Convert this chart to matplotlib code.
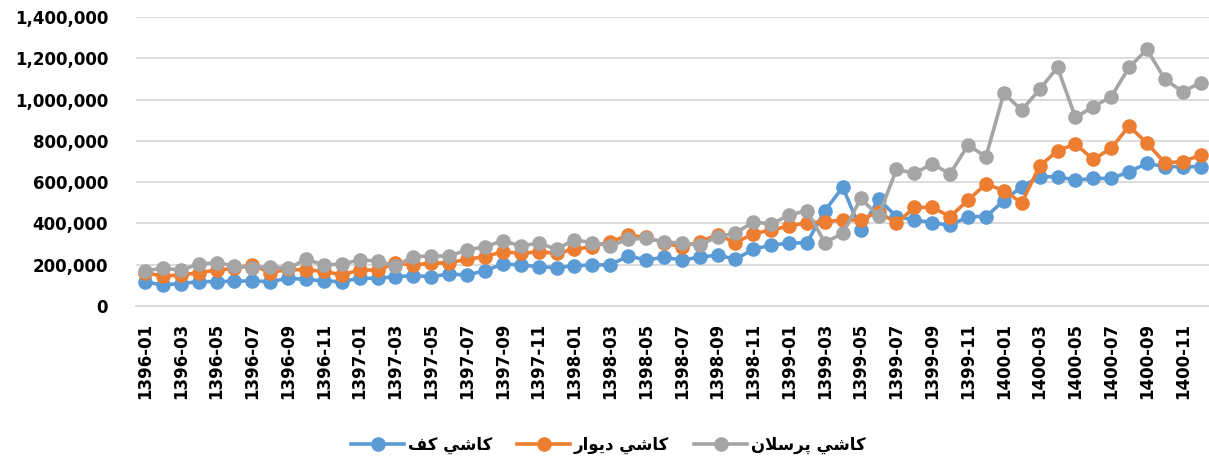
import matplotlib
matplotlib.use("Agg")
import matplotlib.pyplot as plt
from matplotlib.ticker import FuncFormatter

# months 1396-01 .. 1400-12
years = [1396, 1397, 1398, 1399, 1400]
months = [f"{y}-{m:02d}" for y in years for m in range(1, 13)]

# floor tiles (کاشی کف)
floor = [115, 103, 108, 118, 118, 121, 121, 118, 134, 129,
         121, 118, 134, 134, 142, 147, 142, 155, 150, 171,
         203, 199, 190, 186, 195, 199, 199, 242, 223, 236,
         223, 236, 247, 226, 275, 295, 304, 307, 462, 575,
         368, 517, 433, 417, 404, 390, 433, 433, 510, 578,
         626, 626, 610, 618, 618, 650, 691, 675, 675, 675]

# wall tiles (کاشی دیوار)
wall = [161, 145, 150, 161, 174, 182, 200, 161, 178, 174,
        169, 150, 174, 174, 207, 199, 207, 210, 226, 239,
        263, 255, 263, 255, 275, 287, 311, 342, 333, 307,
        285, 311, 345, 307, 350, 368, 387, 404, 408, 417,
        417, 457, 400, 478, 478, 433, 513, 591, 559, 500,
        678, 752, 785, 710, 764, 872, 788, 694, 699, 731]

# porcelain tiles (کاشی پرسلان)
porcelain = [171, 182, 174, 202, 210, 194, 186, 190, 182, 226,
             199, 203, 223, 218, 194, 239, 242, 242, 271, 287,
             316, 291, 304, 275, 320, 307, 291, 323, 328, 311,
             304, 295, 336, 352, 408, 396, 441, 462, 307, 352,
             521, 436, 662, 643, 688, 640, 780, 723, 1030, 949,
             1049, 1156, 914, 965, 1014, 1156, 1243, 1098, 1038, 1082]

# legend labels, written in shaped (presentation) forms, visual order
# "کاشی کف", "کاشی دیوار", "کاشی پرسلان"
labels = [
    "\uFED2\uFB90 \uFEF2\uFEB7\uFE8E\uFB90",
    "\uFEAD\uFE8D\uFEEE\uFEF3\uFEA9 \uFEF2\uFEB7\uFE8E\uFB90",
    "\uFEE5\uFEFC\uFEB3\uFEAE\uFB58 \uFEF2\uFEB7\uFE8E\uFB90",
]
colors = ["#5B9BD5", "#ED7D31", "#A5A5A5"]

plt.rcParams["font.family"] = ["DejaVu Sans"]
plt.rcParams["font.weight"] = "bold"

fig = plt.figure(figsize=(12.09, 4.62), dpi=100)
ax = fig.add_axes([0.1125, 0.3377, 0.8880, 0.6255])

x = list(range(len(months)))
for vals, lab, c in zip([floor, wall, porcelain], labels, colors):
    ax.plot(x, [v * 1000 for v in vals], color=c, lw=2.6, marker="o",
            markersize=9.5, label=lab, clip_on=False)

ax.set_xlim(-0.5, len(months) - 0.5)
ax.set_ylim(0, 1400000)
ax.set_yticks(range(0, 1400001, 200000))
ax.yaxis.set_major_formatter(FuncFormatter(lambda v, p: f"{v:,.0f}"))
ax.set_xticks(x[::2])
ax.set_xticklabels(months[::2], rotation=90)

ax.grid(axis="y", color="#D9D9D9", lw=1.3)
ax.set_axisbelow(True)
for s in ["top", "right", "left"]:
    ax.spines[s].set_visible(False)
ax.spines["bottom"].set_color("#D9D9D9")
ax.spines["bottom"].set_linewidth(1.3)
ax.tick_params(axis="y", length=0, pad=20, labelsize=12)
ax.tick_params(axis="x", length=0, pad=12, labelsize=12)
for t in ax.get_xticklabels() + ax.get_yticklabels():
    t.set_fontweight("bold")

fig.legend(loc="center", bbox_to_anchor=(0.503, 0.037), ncol=3,
           frameon=False, handlelength=3.2, handletextpad=0.2,
           columnspacing=1.5, prop={"size": 12, "weight": "bold"})

fig.savefig("out.png", dpi=100)
